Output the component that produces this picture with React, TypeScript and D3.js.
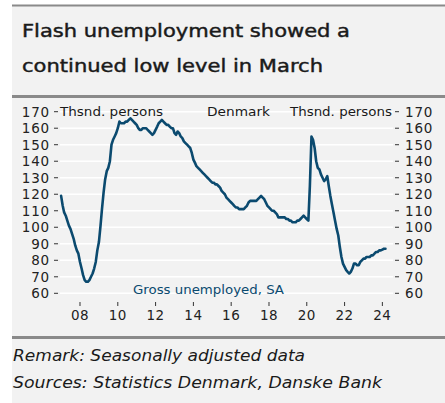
import React from 'react';
import * as d3 from 'd3';

// Gross unemployment, thousand persons, SA, monthly from Jan 2007
const START = new Date(2007, 0, 1);
const grossUnemployed: number[] = [
    // 2007
    119, 113, 109, 107, 104, 101, 99, 96, 93, 89, 86, 84,
    // 2008
    79, 75, 71, 68, 67, 67, 68, 70, 72, 75, 79, 86,
    // 2009
    91, 101, 111, 121, 129, 134, 136, 140, 150, 153, 155, 157,
    // 2010
    160, 164, 163, 163, 163, 164, 164, 165, 166, 165, 164, 163,
    // 2011
    162, 160, 159, 159, 160, 160, 160, 159, 158, 157, 156, 157,
    // 2012
    159, 161, 163, 164, 165, 164, 163, 162, 162, 161, 160, 160,
    // 2013
    157, 156, 158, 157, 155, 154, 152, 151, 150, 149, 148, 145,
    // 2014
    141, 139, 137, 136, 135, 134, 133, 132, 131, 130, 129, 128,
    // 2015
    127, 127, 126, 126, 125, 124, 122, 121, 120, 118, 117, 116,
    // 2016
    115, 114, 113, 112, 112, 111, 111, 111, 111, 112, 113, 115,
    // 2017
    116, 116, 116, 116, 116, 117, 118, 119, 118, 117, 115, 113,
    // 2018
    112, 111, 110, 110, 109, 108, 106, 106, 106, 106, 106, 105,
    // 2019
    105, 104, 104, 103, 103, 103, 104, 104, 105, 106, 107, 106,
    // 2020
    105, 104, 125, 155, 153, 148, 140, 136, 135, 132, 130, 128,
    // 2021
    129, 131, 125, 119, 114, 109, 104, 99, 95, 88, 82, 78,
    // 2022
    76, 74, 73, 72, 73, 75, 78, 78, 77, 77, 79, 80,
    // 2023
    81, 81, 82, 82, 82, 83, 83, 84, 85, 85, 86, 86,
    // 2024
    86.5, 87, 87,
];

const yTicks = [60, 70, 80, 90, 100, 110, 120, 130, 140, 150, 160, 170];
const xTickYears = [2008, 2010, 2012, 2014, 2016, 2018, 2020, 2022, 2024];

const W = 445;
const H = 403;
const LINE_COLOR = '#0b4a6f';
const INK = '#1a1a1a';
const FONT = '"DejaVu Sans", sans-serif';

const App: React.FC = () => {
    const x = d3.scaleTime()
        .domain([new Date(2007, 0, 1), new Date(2025, 0, 1)])
        .range([61.1, 61.1 + 18 * 18.9]);

    const y = d3.scaleLinear()
        .domain([60, 170])
        .range([293.3, 111.7]);

    const points = grossUnemployed.map((v, i) => ({ date: d3.timeMonth.offset(START, i), value: v }));

    const line = d3.line<{ date: Date; value: number }>()
        .x(d => x(d.date))
        .y(d => y(d.value));

    const plotLeft = 60;
    const plotRight = 393;

    return (
        <div>
            <style>{`body{margin:0}`}</style>
            <svg width={W} height={H} style={{ display: 'block' }}>
                <rect x={0} y={0} width={W} height={H} fill='#fff' />
                <rect x={12} y={5} width={W - 12} height={H - 5} fill='#f2f2f2' />
                {/* top rule */}
                <line x1={12} x2={W} y1={5.5} y2={5.5} stroke='#8a8a8a' strokeWidth={2} />

                {/* title */}
                <g fontFamily={FONT} fontSize={18} fill={INK} stroke={INK} strokeWidth={0.45}>
                    <text x={22} y={37} textLength={328} lengthAdjust='spacingAndGlyphs'>
                        Flash unemployment  showed a
                    </text>
                    <text x={22} y={72} textLength={301} lengthAdjust='spacingAndGlyphs'>
                        continued  low level in March
                    </text>
                </g>
                <line x1={12} x2={W} y1={96.5} y2={96.5} stroke='#8a8a8a' strokeWidth={3} />

                {/* gridlines */}
                {yTicks.map(t => (
                    <line key={'g' + t} x1={plotLeft} x2={plotRight} y1={y(t)} y2={y(t)}
                        stroke='#ffffff' strokeWidth={1.5} />
                ))}

                {/* y axes, both sides */}
                {yTicks.map(t => (
                    <g key={'yl' + t} fontFamily={FONT} fontSize={13.5} fill='#222'>
                        <line x1={54} x2={58} y1={y(t)} y2={y(t)} stroke='#333' strokeWidth={1} />
                        <text x={50} y={y(t)} dy='0.36em' textAnchor='end' letterSpacing={0.8}>{t}</text>
                        <line x1={395} x2={399} y1={y(t)} y2={y(t)} stroke='#333' strokeWidth={1} />
                        <text x={405} y={y(t)} dy='0.36em' textAnchor='start' letterSpacing={0.8}>{t}</text>
                    </g>
                ))}

                {/* x axis */}
                {xTickYears.map(yr => {
                    const px = x(new Date(yr, 0, 1));
                    return (
                        <g key={'x' + yr}>
                            <line x1={px} x2={px} y1={302} y2={306} stroke='#333' strokeWidth={1} />
                            <text x={px} y={320} textAnchor='middle' fontFamily={FONT} fontSize={13.5}
                                letterSpacing={0.5} fill='#222'>{String(yr % 100).padStart(2, '0')}</text>
                        </g>
                    );
                })}

                {/* series */}
                <path d={line(points) || ''} fill='none' stroke={LINE_COLOR} strokeWidth={2.6}
                    strokeLinejoin='round' strokeLinecap='round' />

                {/* labels */}
                <g fontFamily={FONT} fontSize={13} fill={INK}>
                    <text x={60} y={y(170)} dy='0.36em' textLength={103} lengthAdjust='spacingAndGlyphs'>
                        Thsnd. persons
                    </text>
                    <text x={207} y={y(170)} dy='0.36em' textLength={63} lengthAdjust='spacingAndGlyphs'>
                        Denmark
                    </text>
                    <text x={290} y={y(170)} dy='0.36em' textLength={102} lengthAdjust='spacingAndGlyphs'>
                        Thsnd. persons
                    </text>
                </g>
                <text x={133} y={294} fontFamily={FONT} fontSize={13} fill={LINE_COLOR}
                    textLength={151} lengthAdjust='spacingAndGlyphs'>
                    Gross unemployed, SA
                </text>

                {/* footer */}
                <line x1={12} x2={W} y1={337.5} y2={337.5} stroke='#8a8a8a' strokeWidth={3} />
                <g fontFamily={FONT} fontSize={15.5} fontStyle='italic' fill={INK}>
                    <text x={13} y={360.5} textLength={292} lengthAdjust='spacingAndGlyphs'>
                        Remark: Seasonally adjusted data
                    </text>
                    <text x={13} y={388} textLength={369} lengthAdjust='spacingAndGlyphs'>
                        Sources: Statistics Denmark, Danske Bank
                    </text>
                </g>
            </svg>
        </div>
    );
};

export default App;
